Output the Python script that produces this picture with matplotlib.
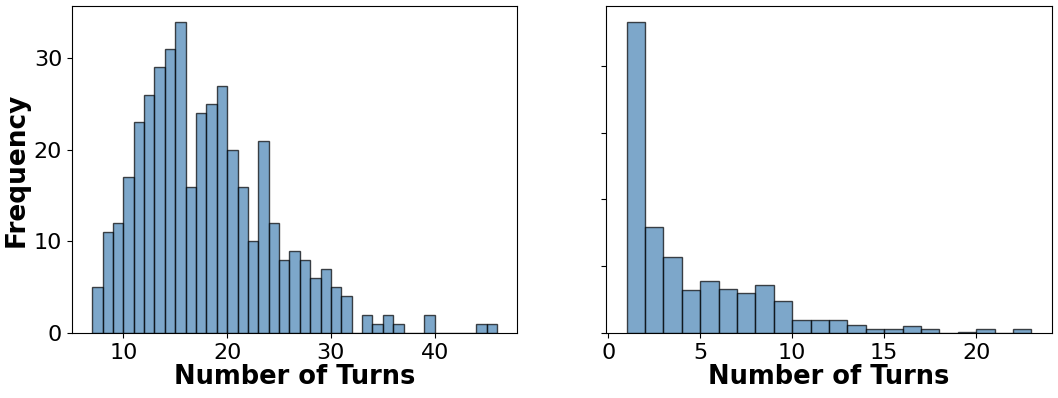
import numpy as np
import matplotlib.pyplot as plt

# left panel: bins of width 1 starting at 7
left_start = 7
left_counts = [5, 11, 12, 17, 23, 26, 29, 31, 34, 16, 24, 25, 27, 20, 16, 10, 21, 12,
               8, 9, 8, 6, 7, 5, 4, 0, 2, 1, 2, 1, 0, 0, 2, 0, 0, 0, 0, 1, 1]

# right panel: bins of width 1 starting at 1
right_start = 1
right_counts = [233, 79, 57, 32, 39, 33, 30, 36, 24, 10, 10, 10, 6, 3, 3, 5, 3, 0, 1, 3, 0, 3]

xlabel = 'Number of Turns'
ylabel = 'Frequency'

fig, (ax1, ax2) = plt.subplots(1, 2, figsize=(10.58, 3.98), dpi=100)
fig.subplots_adjust(left=0.068, right=0.994, top=0.985, bottom=0.163, wspace=0.2)

edges1 = np.arange(left_start, left_start + len(left_counts) + 1)
ax1.hist(edges1[:-1], bins=edges1, weights=left_counts,
         color='steelblue', edgecolor='black', alpha=0.7)
ax1.set_xlabel(xlabel, fontsize=18.5, fontweight='bold', labelpad=1)
ax1.set_ylabel(ylabel, fontsize=19, fontweight='bold', labelpad=3)
ax1.tick_params(labelsize=16)
ax1.set_yticks([0, 10, 20, 30])

edges2 = np.arange(right_start, right_start + len(right_counts) + 1)
ax2.hist(edges2[:-1], bins=edges2, weights=right_counts,
         color='steelblue', edgecolor='black', alpha=0.7)
ax2.set_xlabel(xlabel, fontsize=18.5, fontweight='bold', labelpad=1)
ax2.tick_params(labelsize=16)
ax2.set_xticks([0, 5, 10, 15, 20])
ax2.set_yticks([0, 50, 100, 150, 200])
ax2.set_yticklabels([])

fig.savefig('out.png')
